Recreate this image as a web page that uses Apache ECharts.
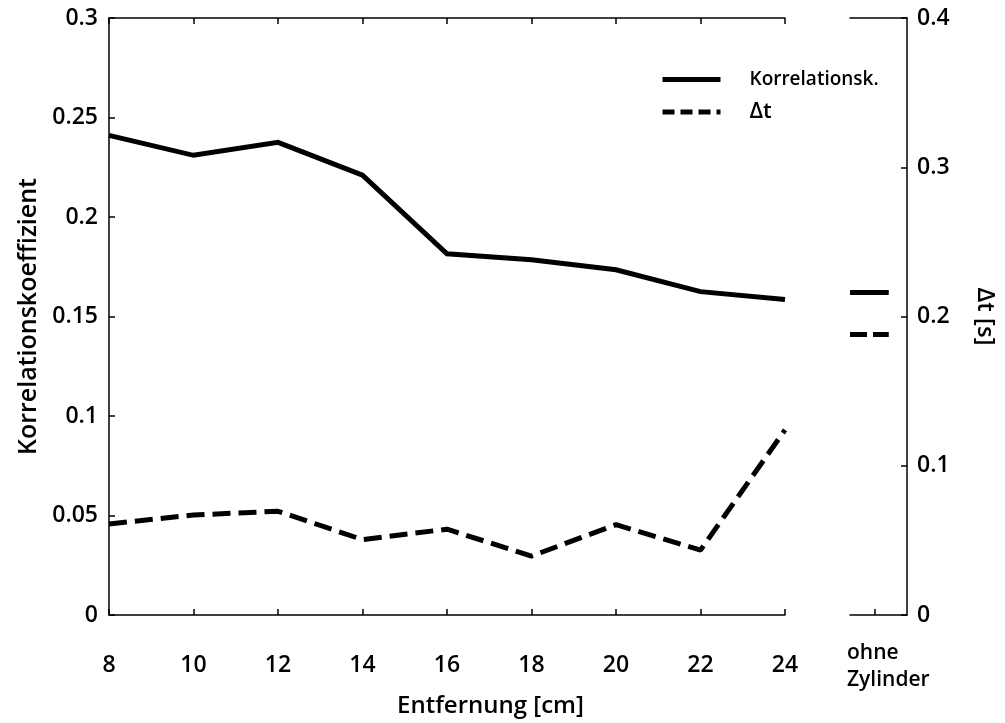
<!DOCTYPE html>
<html>
<head>
<meta charset="utf-8">
<script src="https://cdn.jsdelivr.net/npm/echarts@6/dist/echarts.min.js"></script>
<style>
  html, body { margin: 0; padding: 0; background: #fff; }
  #chart { width: 1005px; height: 723px; }
</style>
</head>
<body>
<div id="chart"></div>
<script>
// Distance to the cylinder [cm]
const distances = [8, 10, 12, 14, 16, 18, 20, 22, 24];
// Correlation coefficient per distance (left axis)
const korrelation = [0.241, 0.231, 0.2375, 0.221, 0.1815, 0.1785, 0.1735, 0.1625, 0.1585];
// Time shift Δt [s] per distance (right axis)
const deltaT = [0.061, 0.067, 0.0695, 0.0505, 0.0575, 0.0395, 0.0605, 0.0435, 0.124];
// Reference measurement without cylinder
const ohneKorrelation = 0.162;
const ohneDeltaT = 0.188;

// Tick labels
const leftTicks = ['0', '0.05', '0.1', '0.15', '0.2', '0.25', '0.3'];
const rightTicks = ['0', '0.1', '0.2', '0.3', '0.4'];
const xTicks = ['8', '10', '12', '14', '16', '18', '20', '22', '24'];

const FONT = "'Open Sans', 'Noto Sans', sans-serif";
const axisLine = { show: true, onZero: false, lineStyle: { color: '#000', width: 1.5 } };
const tickIn = { show: true, inside: true, length: 6, lineStyle: { color: '#000', width: 1.5 } };
const labelStyle = { color: '#000', fontSize: 23, fontFamily: FONT, fontWeight: 600 };
const nameStyle = { color: '#000', fontSize: 24, fontFamily: FONT, fontWeight: 600 };
const hiddenAxis = { show: false, axisLine: { show: false, onZero: false }, axisTick: { show: false }, axisLabel: { show: false }, splitLine: { show: false } };

// x-extent of the short reference marks in the side panel
const panelSpan = [0, 0.68];

const chart = echarts.init(document.getElementById('chart'), null, { renderer: 'canvas' });

chart.setOption({
  backgroundColor: '#fff',
  animation: false,
  grid: [
    { left: 109, top: 18, width: 676, height: 597 },
    { left: 850, top: 18, width: 57, height: 597 }
  ],
  xAxis: [
    {
      gridIndex: 0, type: 'value', min: 8, max: 24, interval: 2, position: 'bottom',
      axisLine, axisTick: tickIn, splitLine: { show: false },
      axisLabel: Object.assign({ margin: 39, formatter: v => xTicks[distances.indexOf(v)] ?? '' }, labelStyle)
    },
    {
      gridIndex: 0, type: 'value', min: 8, max: 24, interval: 2, position: 'top',
      axisLine, axisTick: tickIn, axisLabel: { show: false }, splitLine: { show: false }
    },
    {
      gridIndex: 1, type: 'value', min: 0, max: 1, position: 'bottom',
      axisLine,
      axisTick: Object.assign({ customValues: [0.43] }, tickIn),
      axisLabel: { show: false }, splitLine: { show: false }
    },
    {
      gridIndex: 1, type: 'value', min: 0, max: 1, position: 'top',
      axisLine, axisTick: { show: false }, axisLabel: { show: false }, splitLine: { show: false }
    }
  ],
  yAxis: [
    {
      gridIndex: 0, type: 'value', min: 0, max: 0.3, interval: 0.05, position: 'left',
      axisLine, axisTick: tickIn, splitLine: { show: false },
      axisLabel: Object.assign({ margin: 11, formatter: v => leftTicks[Math.round(v / 0.05)] }, labelStyle),
      name: 'Korrelationskoeffizient', nameLocation: 'middle', nameGap: 68, nameRotate: 90,
      nameTextStyle: Object.assign({}, nameStyle, { fontSize: 25 })
    },
    {
      gridIndex: 1, type: 'value', min: 0, max: 0.4, interval: 0.1, position: 'right',
      axisLine, axisTick: tickIn, splitLine: { show: false },
      axisLabel: Object.assign({ margin: 10, formatter: v => rightTicks[Math.round(v / 0.1)] }, labelStyle),
      name: 'Δt [s]', nameLocation: 'middle', nameGap: 66, nameRotate: -90,
      nameTextStyle: nameStyle
    },
    // Δt scale inside the main panel (same range as the right axis)
    Object.assign({ gridIndex: 0, type: 'value', min: 0, max: 0.4, position: 'right' }, hiddenAxis),
    // correlation scale inside the side panel (same range as the left axis)
    Object.assign({ gridIndex: 1, type: 'value', min: 0, max: 0.3, position: 'left' }, hiddenAxis)
  ],
  legend: {
    orient: 'vertical', left: 655, top: 65, itemWidth: 58, itemHeight: 14, itemGap: 12,
    selectedMode: false,
    itemStyle: { opacity: 0 },
    textStyle: { color: '#000', fontFamily: FONT, fontWeight: 600, padding: [0, 0, 0, 24] },
    data: [
      { name: 'Korrelationsk.', textStyle: { fontSize: 19 }, lineStyle: { width: 5, color: '#000', type: 'solid' } },
      { name: 'Δt', textStyle: { fontSize: 22 }, lineStyle: { width: 5, color: '#000', type: [12, 6] } }
    ]
  },
  series: [
    {
      name: 'Korrelationsk.', type: 'line', xAxisIndex: 0, yAxisIndex: 0,
      data: distances.map((d, i) => [d, korrelation[i]]),
      symbol: 'none', lineStyle: { color: '#000', width: 5, join: 'miter' }, itemStyle: { color: '#000' }
    },
    {
      name: 'Δt', type: 'line', xAxisIndex: 0, yAxisIndex: 2,
      data: distances.map((d, i) => [d, deltaT[i]]),
      symbol: 'none', lineStyle: { color: '#000', width: 5, type: [18, 8] }, itemStyle: { color: '#000' }
    },
    {
      name: 'ohne Zylinder Korrelation', type: 'line', xAxisIndex: 2, yAxisIndex: 3,
      data: panelSpan.map(x => [x, ohneKorrelation]),
      symbol: 'none', lineStyle: { color: '#000', width: 5 }
    },
    {
      name: 'ohne Zylinder Δt', type: 'line', xAxisIndex: 2, yAxisIndex: 1,
      data: panelSpan.map(x => [x, ohneDeltaT]),
      symbol: 'none', lineStyle: { color: '#000', width: 5, type: [17, 6] }
    }
  ],
  graphic: [
    {
      type: 'text', left: 397, top: 694,
      style: { text: 'Entfernung [cm]', fill: '#000', fontSize: 24, fontFamily: FONT, fontWeight: 600 }
    },
    {
      type: 'text', left: 847, top: 640,
      style: { text: 'ohne\nZylinder', fill: '#000', fontSize: 21, lineHeight: 27, fontFamily: FONT, fontWeight: 600 }
    }
  ]
});
</script>
</body>
</html>
